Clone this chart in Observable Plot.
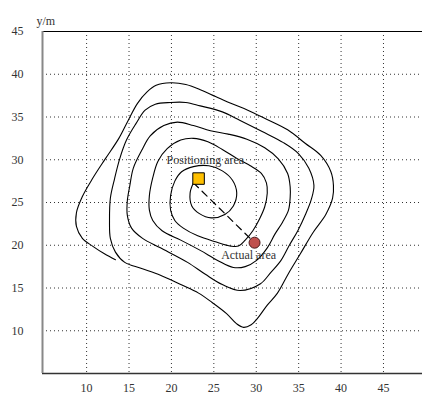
<!DOCTYPE html>
<html>
<head>
<meta charset="utf-8">
<script src="https://cdn.jsdelivr.net/npm/d3@7"></script>
<script src="https://cdn.jsdelivr.net/npm/@observablehq/plot@0.6"></script>
<style>
  html, body { margin: 0; padding: 0; background: #fff; }
  #chart { width: 422px; height: 394px; }
</style>
</head>
<body>
<div id="chart"></div>
<script>
// ---- data ----
const xTicks = [10, 15, 20, 25, 30, 35, 40, 45];
const yTicks = [10, 15, 20, 25, 30, 35, 40, 45];
const xGrid = [10, 15, 20, 25, 30, 35, 40, 45];
const yGrid = [10, 15, 20, 25, 30, 35, 40];
const xDomain = [4.8, 49.6];
const yDomain = [5, 45];
const yLabel = "y/m";

// contour line (one continuous spiral from the positioning point outward)
const contour = [
  [22.6,27.3],[22.2,26.1],[22.4,24.6],[23.3,23.7],[24.7,23.2],[26.3,23.6],[27.3,24.6],[27.7,26.1],
  [27.2,27.6],[26.0,28.7],[24.4,29.3],[22.6,29.2],[21.2,28.6],[20.4,27.5],[19.9,25.8],
  [19.9,24.1],[20.4,22.9],[21.4,22.0],[23.1,21.1],[25.2,20.4],[27.0,19.9],[27.9,19.9],[28.7,20.6],
  [29.6,21.7],[30.4,23.1],[31.0,24.5],[31.3,26.1],[31.2,27.3],[30.6,28.4],[29.3,29.3],[27.8,30.1],
  [26.0,31.2],[24.3,32.1],[22.6,32.5],[21.1,32.3],[19.5,31.3],[18.4,29.8],[17.8,27.9],[17.4,25.8],
  [17.4,24.1],[17.8,22.9],[18.9,21.7],[21.1,20.6],[23.4,19.4],[25.5,18.2],[27.3,17.4],[28.7,17.5],
  [30.0,18.2],[31.3,19.7],[32.2,21.3],[33.1,22.7],[33.8,24.1],[34.0,25.6],[34.0,26.8],[33.7,28.4],
  [32.6,30.1],[31.0,31.4],[28.9,32.4],[26.7,33.0],[24.6,33.4],[22.6,34.0],[20.7,34.4],[19.1,34.0],
  [17.5,32.8],[16.5,31.1],[15.5,29.0],[15.1,27.0],[14.8,25.2],
  [14.8,23.5],[15.3,22.0],[16.6,20.8],[18.7,19.7],[21.9,18.0],[24.0,16.6],[26.0,15.4],[28.1,14.7],
  [30.5,15.5],[31.7,16.8],[32.9,18.2],[33.9,20.0],[34.9,21.7],[35.8,23.6],[36.5,25.4],[36.8,27.0],
  [36.2,29.0],[35.0,30.7],[33.2,32.0],[30.7,33.3],[28.1,34.6],[26.0,35.6],[23.4,36.3],[21.7,36.7],
  [19.9,36.7],[18.1,36.5],[16.9,35.8],[15.8,34.2],[14.7,32.3],[13.9,30.1],[13.3,27.8],[12.8,25.5],
  [12.7,22.9],[12.8,20.8],[13.4,19.2],[14.5,18.0],[16.4,17.3],[18.7,16.5],[21.1,15.4],[23.2,14.4],
  [24.8,13.3],[26.5,12.0],[27.7,10.8],[28.5,10.4],[29.4,10.7],[30.1,11.4],[31.3,13.0],[32.5,14.4],
  [33.8,16.7],[35.2,19.0],[36.7,21.5],[38.2,23.6],[39.0,25.5],[39.1,27.0],[38.8,28.6],[37.6,30.5],
  [35.8,31.9],[33.7,33.5],[31.1,34.8],[29.0,35.8],[27.0,36.6],[25.2,37.4],[23.4,38.2],[21.7,38.8],
  [19.9,39.0],[18.2,38.7],[17.1,37.9],[16.0,36.6],[14.9,34.6],[13.8,32.5],[12.2,30.1],[10.7,27.8],
  [9.5,25.7],[8.8,23.8],[8.8,22.2],[9.5,20.8],[10.7,19.9],[12.1,19.0],[13.4,18.3]
];

const positioningPoint = [[23.2, 27.8]];
const actualPoint = [[29.8, 20.3]];
const linkLine = [[22.6, 27.3], [29.8, 20.3]];
const labelText = ["Positioning area", "Actual area"];
const labelX = [24.0, 29.1];
const labelY = [29.9, 18.8];

const labels = labelText.map((t, i) => ({t, x: labelX[i], y: labelY[i]}));

const chart = Plot.plot({
  width: 422,
  height: 394,
  marginLeft: 42,
  marginRight: 0,
  marginTop: 31,
  marginBottom: 21,
  style: {fontFamily: "'Liberation Serif', 'Times New Roman', serif", fontSize: "12px", color: "#333", background: "#fff"},
  x: {domain: xDomain, ticks: xTicks, tickSize: 0, tickPadding: 10, label: null},
  y: {domain: yDomain, ticks: yTicks, tickSize: 0, tickPadding: 19, label: null},
  marks: [
    Plot.ruleX(xGrid, {stroke: "#333", strokeWidth: 1, strokeDasharray: "1,3"}),
    Plot.ruleY(yGrid, {stroke: "#333", strokeWidth: 1, strokeDasharray: "1,3"}),
    Plot.ruleY([yDomain[1]], {stroke: "#000", strokeWidth: 1.2}),
    Plot.ruleY([yDomain[0]], {stroke: "#333", strokeWidth: 1.5}),
    Plot.ruleX([xDomain[0]], {stroke: "#888", strokeWidth: 2}),
    Plot.line(contour, {x: d => d[0], y: d => d[1], curve: "catmull-rom", stroke: "#000", strokeWidth: 1.1}),
    Plot.line(linkLine, {x: d => d[0], y: d => d[1], stroke: "#000", strokeWidth: 1.2, strokeDasharray: "7,5"}),
    Plot.dot(actualPoint, {x: d => d[0], y: d => d[1], r: 5.5, fill: "#c0504d", stroke: "#4a1a1a", strokeWidth: 1}),
    Plot.dot(positioningPoint, {x: d => d[0], y: d => d[1], symbol: "square", r: 6.5, fill: "#ffc000", stroke: "#000", strokeWidth: 1}),
    Plot.text(labels, {x: "x", y: "y", text: "t", fill: "#333", fontSize: 12}),
    Plot.text([yLabel], {frameAnchor: "top-left", dx: -6, dy: -15, fill: "#333", fontSize: 12})
  ]
});
document.getElementById("chart").appendChild(chart);
</script>
</body>
</html>
